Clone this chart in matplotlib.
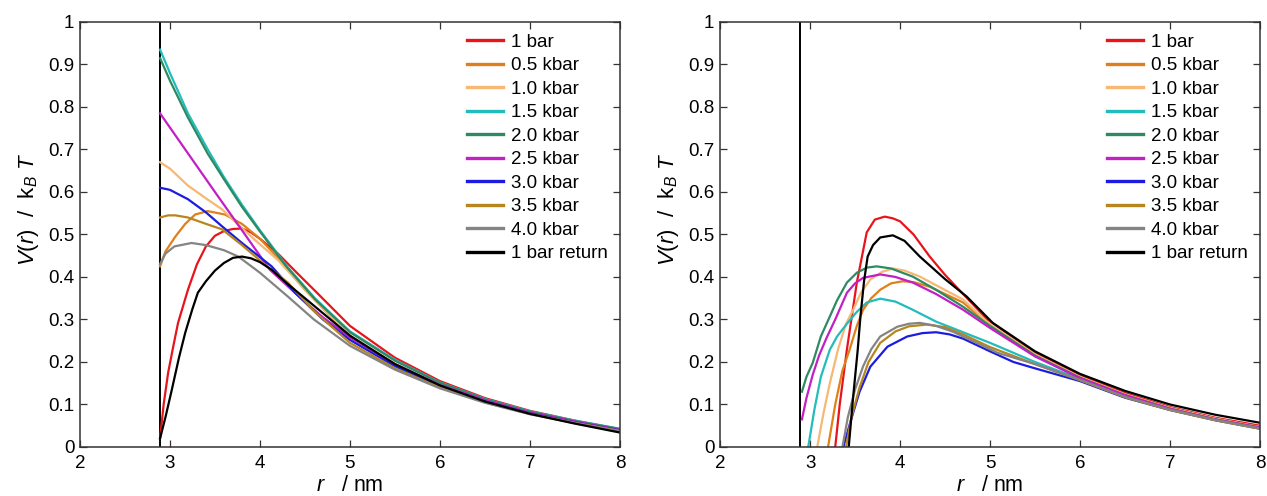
import matplotlib
matplotlib.use("Agg")
import matplotlib.pyplot as plt
from matplotlib.ticker import FormatStrFormatter, MultipleLocator

plt.rcParams["font.family"] = ["Liberation Sans", "DejaVu Sans"]
plt.rcParams["mathtext.fontset"] = "custom"
plt.rcParams["mathtext.rm"] = "Liberation Sans"
plt.rcParams["mathtext.it"] = "Liberation Sans:italic"

labels = ["1 bar", "0.5 kbar", "1.0 kbar", "1.5 kbar", "2.0 kbar",
          "2.5 kbar", "3.0 kbar", "3.5 kbar", "4.0 kbar", "1 bar return"]
colors = ["#e8141c", "#e0801a", "#f6b873", "#22bcbc", "#2e8a62",
          "#c21fc4", "#1c1ce0", "#b8861e", "#848484", "#000000"]

r_wall = 2.89

# ---- left panel (r, V) ----
left_r = {
    "1 bar": [2.89, 2.93, 2.98, 3.04, 3.09, 3.2, 3.3, 3.4, 3.5, 3.6, 3.7, 3.8, 3.9, 4.0,
              4.2, 4.4, 4.6, 5.0, 5.5, 6.0, 6.5, 7.0, 7.5, 8.0],
    "0.5 kbar": [2.89, 2.95, 3.06, 3.17, 3.28, 3.42, 3.61, 3.8, 4.0, 4.2, 4.5,
                 5.0, 5.5, 6.0, 6.5, 7.0, 7.5, 8.0],
    "1.0 kbar": [2.89, 3.0, 3.2, 3.4, 3.58, 3.75, 3.94, 4.2, 4.5,
                 5.0, 5.5, 6.0, 6.5, 7.0, 7.5, 8.0],
    "1.5 kbar": [2.89, 3.0, 3.2, 3.42, 3.6, 3.8, 4.0, 4.3, 4.61,
                 5.0, 5.5, 6.0, 6.5, 7.0, 7.5, 8.0],
    "2.0 kbar": [2.89, 3.0, 3.2, 3.42, 3.6, 3.8, 4.0, 4.3, 4.61,
                 5.0, 5.5, 6.0, 6.5, 7.0, 7.5, 8.0],
    "2.5 kbar": [2.89, 3.17, 3.5, 3.8, 4.11, 4.47, 4.7,
                 5.0, 5.5, 6.0, 6.5, 7.0, 7.5, 8.0],
    "3.0 kbar": [2.89, 3.0, 3.2, 3.4, 3.58, 3.8, 4.13, 4.39, 4.7,
                 5.0, 5.5, 6.0, 6.5, 7.0, 7.5, 8.0],
    "3.5 kbar": [2.89, 2.98, 3.06, 3.2, 3.4, 3.58, 3.8, 4.05, 4.31, 4.6,
                 5.0, 5.5, 6.0, 6.5, 7.0, 7.5, 8.0],
    "4.0 kbar": [2.89, 2.95, 3.05, 3.24, 3.4, 3.6, 3.76, 4.0, 4.31, 4.6,
                 5.0, 5.5, 6.0, 6.5, 7.0, 7.5, 8.0],
    "1 bar return": [2.89, 2.95, 3.02, 3.1, 3.17, 3.25, 3.31, 3.4, 3.5, 3.6, 3.7, 3.8, 3.9,
                     4.0, 4.13, 4.3, 4.5, 5.0, 5.5, 6.0, 6.5, 7.0, 7.5, 8.0],
}
left_v = {
    "1 bar": [0.02, 0.1, 0.175, 0.24, 0.292, 0.37, 0.43, 0.472, 0.497, 0.508, 0.513, 0.514,
              0.505, 0.49, 0.455, 0.412, 0.37, 0.285, 0.21, 0.155, 0.115, 0.085, 0.062, 0.042],
    "0.5 kbar": [0.425, 0.46, 0.495, 0.525, 0.547, 0.555, 0.547, 0.525, 0.49, 0.445, 0.37,
                 0.26, 0.195, 0.145, 0.108, 0.079, 0.058, 0.038],
    "1.0 kbar": [0.67, 0.655, 0.615, 0.585, 0.559, 0.525, 0.488, 0.44, 0.37,
                 0.262, 0.196, 0.146, 0.109, 0.08, 0.058, 0.038],
    "1.5 kbar": [0.935, 0.88, 0.785, 0.70, 0.635, 0.57, 0.51, 0.425, 0.35,
                 0.272, 0.205, 0.152, 0.113, 0.084, 0.062, 0.043],
    "2.0 kbar": [0.915, 0.862, 0.775, 0.69, 0.63, 0.565, 0.507, 0.423, 0.348,
                 0.27, 0.203, 0.151, 0.112, 0.083, 0.061, 0.042],
    "2.5 kbar": [0.785, 0.70, 0.60, 0.51, 0.417, 0.347, 0.305,
                 0.258, 0.195, 0.146, 0.11, 0.081, 0.06, 0.04],
    "3.0 kbar": [0.61, 0.605, 0.583, 0.552, 0.519, 0.48, 0.425, 0.363, 0.3,
                 0.252, 0.19, 0.143, 0.107, 0.079, 0.058, 0.039],
    "3.5 kbar": [0.54, 0.545, 0.545, 0.54, 0.525, 0.512, 0.475, 0.43, 0.387, 0.32,
                 0.245, 0.185, 0.14, 0.105, 0.078, 0.057, 0.038],
    "4.0 kbar": [0.43, 0.455, 0.472, 0.48, 0.475, 0.463, 0.448, 0.41, 0.354, 0.3,
                 0.238, 0.182, 0.138, 0.104, 0.077, 0.056, 0.037],
    "1 bar return": [0.02, 0.07, 0.134, 0.21, 0.269, 0.325, 0.363, 0.39, 0.415, 0.433, 0.445,
                     0.448, 0.444, 0.435, 0.417, 0.385, 0.35, 0.262, 0.195, 0.145, 0.107,
                     0.078, 0.055, 0.034],
}

# ---- right panel ----
right_r = {
    "1 bar": [3.28, 3.33, 3.41, 3.52, 3.63, 3.72, 3.83, 3.92, 4.0, 4.15, 4.33, 4.5, 4.7,
              4.97, 5.5, 6.0, 6.5, 7.0, 7.5, 8.0],
    "0.5 kbar": [3.2, 3.28, 3.36, 3.44, 3.52, 3.59, 3.68, 3.78, 3.9, 4.03, 4.15, 4.33, 4.5,
                 4.7, 5.0, 5.5, 6.0, 6.5, 7.0, 7.5, 8.0],
    "1.0 kbar": [3.08, 3.15, 3.22, 3.31, 3.4, 3.48, 3.57, 3.67, 3.8, 3.92, 4.05, 4.22, 4.45,
                 4.7, 5.0, 5.5, 6.0, 6.5, 7.0, 7.5, 8.0],
    "1.5 kbar": [2.98, 3.05, 3.12, 3.22, 3.3, 3.41, 3.52, 3.63, 3.78, 3.95, 4.14, 4.4, 4.7,
                 5.0, 5.5, 6.0, 6.5, 7.0, 7.5, 8.0],
    "2.0 kbar": [2.91, 2.96, 3.03, 3.12, 3.22, 3.3, 3.41, 3.52, 3.63, 3.74, 3.9, 4.14, 4.4,
                 4.7, 5.0, 5.5, 6.0, 6.5, 7.0, 7.5, 8.0],
    "2.5 kbar": [2.91, 2.96, 3.03, 3.1, 3.18, 3.28, 3.41, 3.5, 3.59, 3.78, 3.95, 4.14, 4.4,
                 4.7, 5.0, 5.5, 6.0, 6.5, 7.0, 7.5, 8.0],
    "3.0 kbar": [3.37, 3.45, 3.55, 3.67, 3.86, 4.08, 4.25, 4.4, 4.55, 4.7, 5.0, 5.26,
                 5.5, 6.0, 6.5, 7.0, 7.5, 8.0],
    "3.5 kbar": [3.4, 3.46, 3.55, 3.65, 3.78, 3.95, 4.1, 4.3, 4.5, 4.7, 5.0,
                 5.5, 6.0, 6.5, 7.0, 7.5, 8.0],
    "4.0 kbar": [3.36, 3.42, 3.5, 3.59, 3.68, 3.78, 3.97, 4.1, 4.22, 4.4, 4.59, 4.8, 5.08,
                 5.5, 6.0, 6.5, 7.0, 7.5, 8.0],
    "1 bar return": [3.43, 3.48, 3.53, 3.56, 3.6, 3.64, 3.7, 3.78, 3.92, 4.05, 4.22, 4.5,
                     4.74, 5.03, 5.5, 6.0, 6.5, 7.0, 7.5, 8.0],
}
right_v = {
    "1 bar": [0.0, 0.1, 0.23, 0.387, 0.505, 0.535, 0.542, 0.538, 0.531, 0.5, 0.448, 0.405,
              0.36, 0.30, 0.222, 0.168, 0.127, 0.094, 0.069, 0.05],
    "0.5 kbar": [0.0, 0.1, 0.18, 0.229, 0.285, 0.323, 0.35, 0.37, 0.385, 0.39, 0.388, 0.377,
                 0.36, 0.34, 0.285, 0.216, 0.164, 0.123, 0.091, 0.066, 0.046],
    "1.0 kbar": [0.0, 0.08, 0.15, 0.229, 0.29, 0.323, 0.365, 0.394, 0.412, 0.42, 0.415, 0.401,
                 0.375, 0.347, 0.288, 0.218, 0.165, 0.124, 0.092, 0.067, 0.047],
    "1.5 kbar": [0.0, 0.09, 0.165, 0.229, 0.26, 0.29, 0.318, 0.34, 0.349, 0.342, 0.323, 0.295,
                 0.27, 0.245, 0.2, 0.16, 0.12, 0.089, 0.065, 0.045],
    "2.0 kbar": [0.13, 0.165, 0.198, 0.26, 0.307, 0.345, 0.387, 0.41, 0.422, 0.425, 0.42,
                 0.401, 0.37, 0.33, 0.285, 0.215, 0.163, 0.122, 0.09, 0.065, 0.045],
    "2.5 kbar": [0.065, 0.115, 0.17, 0.215, 0.255, 0.3, 0.363, 0.385, 0.398, 0.406, 0.4,
                 0.387, 0.36, 0.323, 0.28, 0.213, 0.162, 0.122, 0.09, 0.065, 0.046],
    "3.0 kbar": [0.0, 0.06, 0.13, 0.189, 0.236, 0.26, 0.268, 0.27, 0.265, 0.255, 0.225, 0.2,
                 0.185, 0.155, 0.116, 0.087, 0.063, 0.043],
    "3.5 kbar": [0.0, 0.07, 0.14, 0.2, 0.245, 0.272, 0.284, 0.288, 0.282, 0.265, 0.235,
                 0.195, 0.157, 0.117, 0.087, 0.063, 0.043],
    "4.0 kbar": [0.0, 0.07, 0.135, 0.19, 0.23, 0.26, 0.283, 0.29, 0.292, 0.285, 0.271, 0.25,
                 0.222, 0.195, 0.158, 0.118, 0.088, 0.064, 0.044],
    "1 bar return": [0.0, 0.12, 0.229, 0.307, 0.39, 0.448, 0.475, 0.493, 0.498, 0.485, 0.448,
                     0.395, 0.354, 0.292, 0.225, 0.172, 0.132, 0.1, 0.076, 0.057],
}

fig = plt.figure(figsize=(12.67, 4.96), dpi=100)
ax1 = fig.add_axes([0.0631, 0.0988, 0.4262, 0.8569])
ax2 = fig.add_axes([0.5683, 0.0988, 0.4262, 0.8569])

for ax, rs, vs in [(ax1, left_r, left_v), (ax2, right_r, right_v)]:
    ax.plot([r_wall, r_wall], [0, 1], color="black", lw=1.4, zorder=1)
    for lab, col in zip(labels, colors):
        ax.plot(rs[lab], vs[lab], color=col, lw=1.6, label=lab, zorder=2)
    ax.set_xlim(2, 8)
    ax.set_ylim(0, 1)
    ax.xaxis.set_major_locator(MultipleLocator(1))
    ax.yaxis.set_major_locator(MultipleLocator(0.1))
    ax.yaxis.set_major_formatter(FormatStrFormatter("%g"))
    ax.tick_params(direction="in", top=True, right=True, length=5, width=0.9,
                   labelsize=13.5, colors="#333333", labelcolor="black")
    ax.tick_params(axis="x", pad=6)
    ax.tick_params(axis="y", pad=4)
    for sp in ax.spines.values():
        sp.set_color("#333333")
        sp.set_linewidth(1.1)
    ax.set_xlabel(r"$r$   / nm", fontsize=15.5, labelpad=2)
    ax.set_ylabel(r"$V(r)$  /  k$_B$ $T$", fontsize=16)
    ax.yaxis.set_label_coords(-0.072, 0.56)
    leg = ax.legend(loc="upper right", bbox_to_anchor=(0.992, 0.99), frameon=False,
                    fontsize=13.5, handlelength=1.92, handletextpad=0.43,
                    labelspacing=0.34, borderaxespad=0.0)
    for h in leg.get_lines():
        h.set_linewidth(2.4)

fig.savefig("out.png", dpi=100)
